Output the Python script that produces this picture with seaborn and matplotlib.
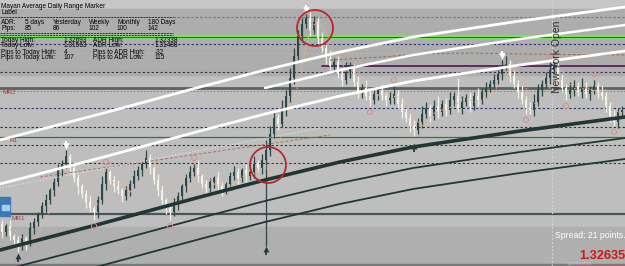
import numpy as np
import pandas as pd
import matplotlib
matplotlib.use("Agg")
import matplotlib.pyplot as plt
import seaborn as sns
from matplotlib.patches import Rectangle, Ellipse

# ---------------- data (prices in 1/10000) ----------------
close_pts = [13158, 13161, 13156, 13154, 13151, 13155, 13153, 13160, 13163, 13167,
             13171, 13174, 13179, 13183, 13189, 13192, 13196, 13190, 13185, 13181,
             13177, 13173, 13170, 13168, 13174, 13182, 13188, 13184, 13181, 13179,
             13176, 13179, 13182, 13186, 13189, 13192, 13195, 13190, 13184, 13179,
             13174, 13170, 13168, 13172, 13176, 13181, 13185, 13188, 13190, 13186,
             13182, 13180, 13183, 13185, 13181, 13179, 13182, 13186, 13188, 13185,
             13189, 13186, 13188, 13192, 13190, 13194, 13199, 13207, 13215, 13212,
             13220, 13226, 13235, 13246, 13256, 13262, 13265, 13259, 13263, 13255,
             13250, 13245, 13241, 13243, 13237, 13234, 13238, 13240, 13233, 13228,
             13230, 13226, 13224, 13227, 13229, 13226, 13224, 13225, 13227, 13222,
             13218, 13215, 13211, 13209, 13213, 13217, 13220, 13216, 13221, 13218,
             13222, 13219, 13224, 13226, 13220, 13223, 13225, 13221, 13226, 13224,
             13228, 13230, 13232, 13234, 13237, 13241, 13242, 13236, 13232, 13228,
             13224, 13220, 13219, 13223, 13229, 13232, 13235, 13239, 13241, 13234,
             13230, 13227, 13229, 13231, 13228, 13230, 13227, 13229, 13231, 13228,
             13226, 13221, 13216, 13213, 13218, 13219]
first_open = 13162
up_wick = [2, 1, 3, 1, 2, 2, 1, 3, 2, 1, 2, 3, 1, 2, 3, 2, 3, 1, 2, 2,
           1, 2, 3, 1, 2, 4, 2, 1, 2, 3, 1, 2, 2, 3, 2, 1, 4, 2, 1, 3,
           2, 1, 2, 3, 2, 1, 2, 3, 2, 4, 1, 2, 2, 1, 3, 2, 1, 2, 3, 2,
           1, 3, 2, 4, 2, 3, 5, 4, 3, 2, 4, 3, 5, 4, 3, 3, 2, 4, 3, 2,
           3, 2, 4, 2, 3, 2, 5, 3, 2, 3, 2, 4, 3, 2, 2, 3, 2, 3, 4, 2,
           3, 2, 2, 3, 2, 4, 3, 2, 3, 5, 2, 3, 4, 2, 9, 3, 2, 3, 2, 4,
           2, 3, 2, 3, 2, 3, 4, 2, 3, 2, 3, 2, 3, 4, 3, 2, 3, 4, 3, 2,
           3, 2, 4, 3, 2, 5, 3, 2, 3, 2, 3, 2, 2, 3, 2, 2]
dn_wick = [3, 2, 2, 3, 3, 2, 4, 2, 3, 2, 2, 3, 2, 3, 2, 3, 2, 3, 2, 4,
           2, 3, 2, 4, 3, 2, 3, 2, 3, 2, 3, 2, 3, 2, 2, 3, 2, 3, 2, 3,
           2, 3, 4, 2, 3, 2, 3, 2, 2, 3, 2, 3, 2, 3, 2, 3, 2, 3, 2, 3,
           2, 3, 2, 3, 2, 3, 43, 3, 2, 3, 2, 4, 3, 3, 2, 3, 2, 3, 2, 3,
           2, 3, 2, 3, 2, 3, 2, 3, 2, 3, 3, 2, 3, 2, 3, 2, 3, 2, 3, 2,
           3, 2, 3, 3, 2, 3, 2, 3, 2, 3, 2, 3, 2, 3, 2, 3, 2, 3, 2, 3,
           2, 3, 2, 3, 2, 3, 2, 3, 2, 3, 2, 3, 2, 3, 2, 3, 2, 3, 2, 3,
           2, 3, 2, 3, 2, 3, 2, 3, 2, 3, 2, 3, 3, 2, 3, 2]

# horizontal levels
level_prices = [1.32655, 1.3252, 1.32475, 1.3238, 1.3230, 1.32285, 1.3220,
                1.32105, 1.32055, 1.32015, 1.31925, 1.3167]
adr_high_line = 1.32555
purple_level = 1.3241

# regression channel (base curve anchors: bar index, price) and offsets
trend_idx = [-0.5, 24.5, 49.5, 65.75, 84.5, 102.75, 129.5, 155.75]
trend_base = [1.3149, 1.3162, 1.31755, 1.3184, 1.3193, 1.32005, 1.32085, 1.32155]
dark_offsets = [0.0, -0.00105, -0.0021]
white_offsets = [0.0033, 0.0055]
white_mid_offset = 0.0046

# thin dashed/dotted study lines (bar index, price)
rust_line_idx = [9.5, 82.0]
rust_line_px = [1.31855, 1.32065]
brown_curve_idx = [82.0, 95.0, 104.5, 117.0, 130.0, 155.75]
brown_curve_px = [1.3244, 1.32455, 1.3247, 1.32475, 1.3247, 1.32465]
white_dot_idx = [-0.5, 79.5]
white_dot_px = [1.3180, 1.3210]

pivot_hi = [26, 48, 98, 137, 148]
pivot_lo = [23, 42, 92, 131, 141, 153]

# info panel texts
hdr_labels = ["ADR:", "5 days", "Yesterday", "Weekly", "Monthly", "180 Days"]
pip_values = ["Pips:", "85", "86", "102", "100", "142"]
stats = [("Today High:", "1.32693", "ADR High:", "1.32338"),
         ("Today Low:", "1.31563", "ADR Low:", "1.31488"),
         ("Pips to Today High:", "4", "Pips to ADR High:", "-32"),
         ("Pips to Today Low:", "107", "Pips to ADR Low:", "115")]

# ---------------- derived OHLC ----------------
close = np.array(close_pts) / 10000.0
open_ = np.r_[first_open, close_pts[:-1]] / 10000.0
high = np.maximum(open_, close) + np.array(up_wick) / 10000.0
low = np.minimum(open_, close) - np.array(dn_wick) / 10000.0
idx = np.arange(len(close))
df = pd.DataFrame({"i": idx, "open": open_, "close": close, "high": high, "low": low})

# ---------------- figure ----------------
sns.set_style("white")
plt.rcParams["font.family"] = ["Liberation Sans", "DejaVu Sans"]
W, H = 625, 266
fig = plt.figure(figsize=(6.25, 2.66), dpi=100, facecolor="#bebebe")
ax = fig.add_axes([0, 0, 1, 1])
ax.set_xlim(-0.5, 155.75)
ax.set_ylim(1.3141, 1.3274)
ax.set_axis_off()

def fy(py):
    return 1 - py / H

def fx(px):
    return px / W

# background bands (axes fraction)
ax.add_patch(Rectangle((0, fy(9)), 1, 9 / H, transform=ax.transAxes, color="#c6c6c6", zorder=0))
ax.add_patch(Rectangle((0, fy(75)), 1, 66 / H, transform=ax.transAxes, color="#adadad", zorder=0))
ax.add_patch(Rectangle((0, fy(264)), 1, 37 / H, transform=ax.transAxes, color="#afafaf", zorder=0))
ax.add_patch(Rectangle((0, 0), 1, 2 / H, transform=ax.transAxes, color="#7a7a7a", zorder=0))

# horizontal levels
level_styles = [
    dict(color="#a0605a", ls=(0, (2, 2)), lw=0.8, xmin=173 / W),
    dict(color="#2c2c6a", ls=(0, (2, 2)), lw=0.8, xmin=0),
    dict(color="#c8c060", ls=(0, (2, 2)), lw=0.8, xmin=0),
    dict(color="#303040", ls=(0, (2, 2)), lw=0.8, xmin=0),
    dict(color="#5a6262", ls="-", lw=2.0, xmin=0),
    dict(color="#b06868", ls=(0, (2, 2)), lw=0.6, xmin=0),
    dict(color="#2c2c6a", ls=(0, (2, 2)), lw=0.8, xmin=0),
    dict(color="#303040", ls=(0, (2, 2)), lw=0.8, xmin=0),
    dict(color="#2f7a2f", ls="-", lw=0.9, xmin=0),
    dict(color="#303040", ls=(0, (2, 2)), lw=0.8, xmin=0),
    dict(color="#303040", ls=(0, (2, 2)), lw=0.8, xmin=0),
    dict(color="#4a5656", ls="-", lw=1.6, xmin=0),
]
for p, st in zip(level_prices, level_styles):
    ax.axhline(p, xmin=st["xmin"], xmax=1, color=st["color"], ls=st["ls"], lw=st["lw"], zorder=1)
ax.axhline(adr_high_line, color="#7fdc6a", lw=3.2, zorder=1)
ax.axhline(adr_high_line, color="#2a6a2a", lw=0.7, zorder=1)
ax.axhline(purple_level, xmin=322 / W, xmax=1, color="#5a1e5a", lw=1.3, zorder=1)

# panel separators (dashed rows)
for yy, lw in [(17, 0.6), (33, 0.6), (35, 0.6)]:
    ax.plot([0, fx(173)], [fy(yy), fy(yy)], transform=ax.transAxes, color="#222222",
            lw=lw, ls=(0, (2.5, 1)), zorder=9)

# session separator
ax.axvline(137.5, color="#d4d4d4", ls=(0, (1.5, 1.5)), lw=0.9, zorder=1)

# candles
up = df.close >= df.open
col = np.where(up, "#2e4646", "#f4f1e8")
ax.vlines(df.i, df.low, df.high, colors=col, lw=0.9, zorder=3)
body_h = np.maximum((df.close - df.open).abs(), 0.00003)
ax.bar(df.i, body_h, bottom=np.minimum(df.open, df.close), width=0.7, color=col, lw=0, zorder=3)

# zigzag-like dotted study following price
mid = ((df.high + df.low) / 2).rolling(3, center=True, min_periods=1).mean().shift(2)
sns.lineplot(x=df.i, y=mid, ax=ax, color="#f0b48c", lw=0.9, ls=(0, (1, 1.3)), zorder=4, legend=False)

# thin study lines
sns.lineplot(x=rust_line_idx, y=rust_line_px, ax=ax, color="#b07060", lw=0.7, ls=(0, (3, 2)), zorder=4)
sns.lineplot(x=brown_curve_idx, y=brown_curve_px, ax=ax, color="#9a6a50", lw=0.7, ls=(0, (3, 2)), zorder=4)
sns.lineplot(x=white_dot_idx, y=white_dot_px, ax=ax, color="#eeeeee", lw=0.7, ls=(0, (1, 2)), zorder=4)

# regression channel
base = np.array(trend_base)
for k, off in enumerate(dark_offsets):
    sns.lineplot(x=trend_idx, y=base + off, ax=ax, color="#223636",
                 lw=2.6 if k == 0 else 1.3, zorder=5, sort=False)
for off in white_offsets:
    sns.lineplot(x=trend_idx, y=base + off, ax=ax, color="white", lw=2.0, zorder=5, sort=False)
sns.lineplot(x=trend_idx[3:], y=(base + white_mid_offset)[3:], ax=ax, color="white", lw=1.8, zorder=5, sort=False)

# pivot markers
ax.scatter(pivot_hi, df.high.values[pivot_hi] + 0.0003, s=14, facecolors="none",
           edgecolors="#d89090", lw=0.7, zorder=6)
ax.scatter(pivot_lo, df.low.values[pivot_lo] - 0.0003, s=14, facecolors="none",
           edgecolors="#d89090", lw=0.7, zorder=6)

# arrow markers (drawn as stem + head)
for i in [16, 76, 125]:
    top = df.high[i] + 0.00045
    ax.vlines(i, df.high[i] + 0.0002, top, color="white", lw=1.6, zorder=7)
    ax.scatter([i], [df.high[i] + 0.00018], marker="v", s=22, color="white", zorder=7, lw=0)
for i, dy in [(4, 0.0001), (66, 0.00005), (103, 0.0004)]:
    base_y = df.low[i] - dy
    ax.vlines(i, base_y - 0.0004, base_y - 0.0001, color="#2a3838", lw=1.3, zorder=7)
    ax.scatter([i], [base_y - 0.0001], marker="^", s=18, color="#2a3838", zorder=7, lw=0)

# red circles
for cx, cy in [(315, 28), (268, 165)]:
    ax.add_patch(Ellipse((fx(cx), fy(cy)), 36 / W, 36 / H, transform=ax.transAxes,
                         fill=False, ec="#b8282c", lw=1.3, zorder=8))

# level labels
lab_kw = dict(transform=ax.transAxes, fontsize=4.6, color="#a03a3a", va="center", zorder=9)
ax.text(fx(3), fy(92), "MR2", **lab_kw)
ax.text(fx(9), fy(141), "R1", **lab_kw)
ax.text(fx(12), fy(219), "MR1", **lab_kw)

# small icon
ax.add_patch(Rectangle((0, fy(216)), 10 / W, 19 / H, transform=ax.transAxes, color="#3d78b4", zorder=9))
ax.add_patch(Rectangle((2 / W, fy(210)), 7 / W, 5 / H, transform=ax.transAxes, color="#9fd0e8", zorder=9))

# info panel
tk = dict(transform=ax.transAxes, fontsize=4.7, color="black", va="center", zorder=10)
ax.text(fx(1), fy(6), "Mayan Average Daily Range Marker", **tk)
ax.text(fx(1), fy(12.5), "Label", **tk)
cols = [1, 25, 53, 89, 117, 148]
for c, a, b in zip(cols, hdr_labels, pip_values):
    ax.text(fx(c), fy(23), a, **tk)
    ax.text(fx(c), fy(29), b, **tk)
for (a, b, c, d), yy in zip(stats, [40, 46, 52, 57.5]):
    ax.text(fx(1), fy(yy), a, **tk)
    ax.text(fx(64), fy(yy), b, **tk)
    ax.text(fx(93), fy(yy), c, **tk)
    ax.text(fx(155), fy(yy), d, **tk)

# session text
ax.text(fx(557), fy(57), "New York Open", transform=ax.transAxes, rotation=90, fontsize=7.5,
        color="#333333", ha="center", va="center", zorder=10)

# bottom-right info
ax.text(fx(555), fy(235), "Spread: 21 points.", transform=ax.transAxes, fontsize=6.2,
        color="white", va="center", ha="left", zorder=10)
ax.text(fx(579), fy(256), "1.32635", transform=ax.transAxes, fontsize=9.2, fontweight="bold",
        color="#d01818", va="center", ha="left", zorder=10)
ax.text(fx(567), fy(263.5), "screenshot", transform=ax.transAxes, fontsize=3.6,
        color="#e0e0e0", alpha=0.6, va="center", ha="left", zorder=11)

fig.savefig("out.png", dpi=100, facecolor=fig.get_facecolor())
